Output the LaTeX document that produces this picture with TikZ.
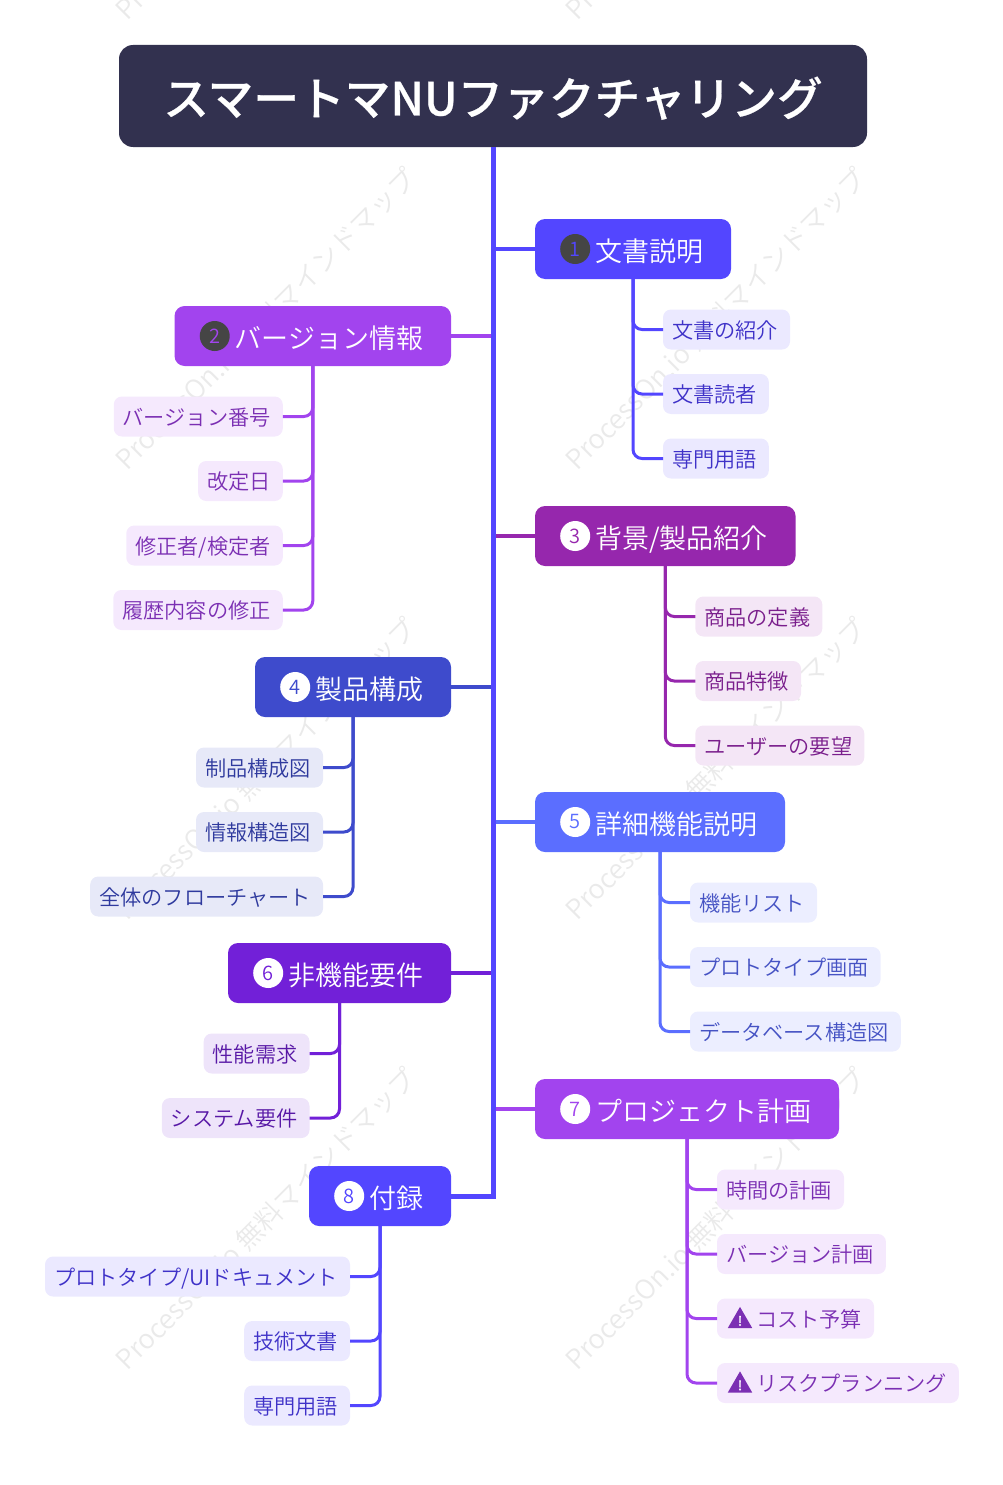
\documentclass[tikz,border=0pt]{standalone}
\usepackage{fontspec}
\setmainfont{Noto Sans CJK JP DemiLight}
\newfontfamily\titlefont[FakeBold=0.5]{Noto Sans CJK JP Medium}
\usepackage{tikz}
\usetikzlibrary{positioning}
\usetikzlibrary{shapes.geometric}

\definecolor{titlebg}{HTML}{32314F}
\definecolor{wmark}{HTML}{EAEAEA}
\definecolor{blueA}{HTML}{5346FF}
\definecolor{blueAsub}{HTML}{EBE9FF}
\definecolor{blueAtxt}{HTML}{3F32C8}
\definecolor{purpleA}{HTML}{A244EE}
\definecolor{purpleAsub}{HTML}{F5E9FD}
\definecolor{purpleAtxt}{HTML}{7B2FB3}
\definecolor{plumA}{HTML}{9627AD}
\definecolor{plumAsub}{HTML}{F4E6F6}
\definecolor{plumAtxt}{HTML}{7A1E8C}
\definecolor{indigoA}{HTML}{3E4BCC}
\definecolor{indigoAsub}{HTML}{E7E9F8}
\definecolor{indigoAtxt}{HTML}{2F3A9E}
\definecolor{skyA}{HTML}{5B6EFF}
\definecolor{skyAsub}{HTML}{ECEEFF}
\definecolor{skyAtxt}{HTML}{4653C4}
\definecolor{violetA}{HTML}{7220D8}
\definecolor{violetAsub}{HTML}{EEE4FA}
\definecolor{violetAtxt}{HTML}{5818A6}

\begin{document}
\begin{tikzpicture}[
        x=1pt, y=-1pt,
        titlenode/.style={rectangle, rounded corners=14pt, fill=titlebg, text=white, minimum width=748pt, minimum height=102pt, outer sep=0pt, inner ysep=0pt, text height=40pt, text depth=1pt, font=\fontsize{45.7}{46}\titlefont},
        mainnode/.style={rectangle, rounded corners=10pt, fill=#1, text=white, minimum height=60pt, outer sep=0pt, inner xsep=0pt, inner ysep=0pt, text height=26pt, text depth=2pt, font=\fontsize{27}{27}\selectfont, execute at begin node=\hspace{60pt}, execute at end node=\hspace{28pt}},
        subnode/.style={rectangle, rounded corners=8pt, fill=#1sub, text=#1txt, minimum height=40pt, outer sep=0pt, inner xsep=9pt, inner ysep=0pt, text height=19pt, text depth=2pt, font=\fontsize{21.2}{21}\selectfont, execute at end node=\hspace{3pt}},
        badge/.style={circle, fill=white, text=#1, minimum size=30pt, inner sep=0pt, font=\fontsize{20}{20}\selectfont},
        darkbadge/.style={circle, fill=black!73, text=#1, minimum size=30pt, inner sep=0pt, font=\fontsize{20}{20}\selectfont},
        warnicon/.style={regular polygon, regular polygon sides=3, fill=purpleAtxt, text=white, minimum size=25pt, inner sep=0pt, font=\fontsize{13}{13}\titlefont},
        watermark/.style={rotate=45, anchor=west, text=wmark, font=\fontsize{27}{27}\selectfont},
        trunk/.style={draw=blueA, line width=5pt},
        branch/.style={draw=#1, line width=4pt},
        twig/.style={draw=#1, line width=3pt, rounded corners=9pt},
    ]
    \useasboundingbox (0,0) rectangle (1003,1485);

    % Watermarks
    \node[watermark] (mark_1) at (118,17)   {ProcessOn.io 無料マインドマップ};
    \node[watermark] (mark_2) at (568,17)   {ProcessOn.io 無料マインドマップ};
    \node[watermark] (mark_3) at (118,467)  {ProcessOn.io 無料マインドマップ};
    \node[watermark] (mark_4) at (568,467)  {ProcessOn.io 無料マインドマップ};
    \node[watermark] (mark_5) at (118,917)  {ProcessOn.io 無料マインドマップ};
    \node[watermark] (mark_6) at (568,917)  {ProcessOn.io 無料マインドマップ};
    \node[watermark] (mark_7) at (118,1367) {ProcessOn.io 無料マインドマップ};
    \node[watermark] (mark_8) at (568,1367) {ProcessOn.io 無料マインドマップ};

    % Nodes
    \node[titlenode] (title) at (493,96) {スマートマNUファクチャリング};

    \node[mainnode=blueA]   (doc_desc)  [below right=72pt and 42pt of title.south]            {文書説明};
    \node[mainnode=plumA]   (background) [below=227pt of doc_desc.south west, anchor=north west] {背景/製品紹介};
    \node[mainnode=skyA]    (detail)    [below=226pt of background.south west, anchor=north west] {詳細機能説明};
    \node[mainnode=purpleA] (plan)      [below=227pt of detail.south west, anchor=north west]     {プロジェクト計画};

    \node[mainnode=purpleA] (version)   [below left=159pt and 42pt of title.south]            {バージョン情報};
    \node[mainnode=indigoA] (product)   [below=291pt of version.south east, anchor=north east]  {製品構成};
    \node[mainnode=violetA] (nonfunc)   [below=226pt of product.south east, anchor=north east]  {非機能要件};
    \node[mainnode=blueA]   (appendix)  [below=163pt of nonfunc.south east, anchor=north east]  {付録};

    \node[darkbadge=blueA]   (badge_1) [right=25pt of doc_desc.west]   {1};
    \node[darkbadge=purpleA] (badge_2) [right=25pt of version.west]    {2};
    \node[badge=plumA]       (badge_3) [right=25pt of background.west] {3};
    \node[badge=indigoA]     (badge_4) [right=25pt of product.west]    {4};
    \node[badge=skyA]        (badge_5) [right=25pt of detail.west]     {5};
    \node[badge=violetA]     (badge_6) [right=25pt of nonfunc.west]    {6};
    \node[badge=purpleA]     (badge_7) [right=25pt of plan.west]       {7};
    \node[badge=blueA]       (badge_8) [right=25pt of appendix.west]   {8};

    \node[subnode=blueA] (doc_intro)  [below right=30.5pt and 30pt of doc_desc.south]         {文書の紹介};
    \node[subnode=blueA] (doc_reader) [below=24.5pt of doc_intro.south west, anchor=north west]  {文書読者};
    \node[subnode=blueA] (doc_terms)  [below=24.5pt of doc_reader.south west, anchor=north west] {専門用語};

    \node[subnode=purpleA] (ver_no)   [below left=30.5pt and 30pt of version.south]          {バージョン番号};
    \node[subnode=purpleA] (ver_date) [below=24.5pt of ver_no.south east, anchor=north east]   {改定日};
    \node[subnode=purpleA] (ver_by)   [below=24.5pt of ver_date.south east, anchor=north east] {修正者/検定者};
    \node[subnode=purpleA] (ver_log)  [below=24.5pt of ver_by.south east, anchor=north east]   {履歴内容の修正};

    \node[subnode=plumA] (bg_def)   [below right=30.5pt and 30pt of background.south]      {商品の定義};
    \node[subnode=plumA] (bg_trait) [below=24.5pt of bg_def.south west, anchor=north west]   {商品特徴};
    \node[subnode=plumA] (bg_need)  [below=24.5pt of bg_trait.south west, anchor=north west] {ユーザーの要望};

    \node[subnode=indigoA] (prod_chart) [below left=30.5pt and 30pt of product.south]         {制品構成図};
    \node[subnode=indigoA] (prod_info)  [below=24.5pt of prod_chart.south east, anchor=north east] {情報構造図};
    \node[subnode=indigoA] (prod_flow)  [below=24.5pt of prod_info.south east, anchor=north east]  {全体のフローチャート};

    \node[subnode=skyA] (det_list)  [below right=30.5pt and 30pt of detail.south]         {機能リスト};
    \node[subnode=skyA] (det_proto) [below=24.5pt of det_list.south west, anchor=north west]  {プロトタイプ画面};
    \node[subnode=skyA] (det_db)    [below=24.5pt of det_proto.south west, anchor=north west] {データベース構造図};

    \node[subnode=violetA] (non_perf) [below left=30.5pt and 30pt of nonfunc.south]        {性能需求};
    \node[subnode=violetA] (non_sys)  [below=24.5pt of non_perf.south east, anchor=north east] {システム要件};

    \node[subnode=purpleA] (plan_time) [below right=30.5pt and 30pt of plan.south]         {時間の計画};
    \node[subnode=purpleA] (plan_ver)  [below=24.5pt of plan_time.south west, anchor=north west] {バージョン計画};
    \node[subnode=purpleA] (plan_cost) [below=24.5pt of plan_ver.south west, anchor=north west]  {\hspace{30pt}コスト予算};
    \node[subnode=purpleA] (plan_risk) [below=24.5pt of plan_cost.south west, anchor=north west] {\hspace{30pt}リスクプランニング};
    \node[warnicon] (warn_cost) [right=23pt of plan_cost.west, anchor=center, yshift=-2.5pt] {!};
    \node[warnicon] (warn_risk) [right=23pt of plan_risk.west, anchor=center, yshift=-2.5pt] {!};

    \node[subnode=blueA] (app_ui)    [below left=30.5pt and 30pt of appendix.south]       {プロトタイプ/UIドキュメント};
    \node[subnode=blueA] (app_tech)  [below=24.5pt of app_ui.south east, anchor=north east]   {技術文書};
    \node[subnode=blueA] (app_terms) [below=24.5pt of app_tech.south east, anchor=north east] {専門用語};

    % Lines
    \draw[branch=blueA]   (title.south |- doc_desc.west) -- (doc_desc.west);
    \draw[branch=purpleA] (title.south |- version.east) -- (version.east);
    \draw[branch=plumA]   (title.south |- background.west) -- (background.west);
    \draw[branch=indigoA] (title.south |- product.east) -- (product.east);
    \draw[branch=skyA]    (title.south |- detail.west) -- (detail.west);
    \draw[branch=violetA] (title.south |- nonfunc.east) -- (nonfunc.east);
    \draw[branch=purpleA] (title.south |- plan.west) -- (plan.west);
    \draw[trunk] (title.south) |- (appendix.east);

    \draw[twig=blueA] (doc_desc.south) |- (doc_intro.west);
    \draw[twig=blueA] (doc_desc.south) |- (doc_reader.west);
    \draw[twig=blueA] (doc_desc.south) |- (doc_terms.west);

    \draw[twig=purpleA] (version.south) |- (ver_no.east);
    \draw[twig=purpleA] (version.south) |- (ver_date.east);
    \draw[twig=purpleA] (version.south) |- (ver_by.east);
    \draw[twig=purpleA] (version.south) |- (ver_log.east);

    \draw[twig=plumA] (background.south) |- (bg_def.west);
    \draw[twig=plumA] (background.south) |- (bg_trait.west);
    \draw[twig=plumA] (background.south) |- (bg_need.west);

    \draw[twig=indigoA] (product.south) |- (prod_chart.east);
    \draw[twig=indigoA] (product.south) |- (prod_info.east);
    \draw[twig=indigoA] (product.south) |- (prod_flow.east);

    \draw[twig=skyA] (detail.south) |- (det_list.west);
    \draw[twig=skyA] (detail.south) |- (det_proto.west);
    \draw[twig=skyA] (detail.south) |- (det_db.west);

    \draw[twig=violetA] (nonfunc.south) |- (non_perf.east);
    \draw[twig=violetA] (nonfunc.south) |- (non_sys.east);

    \draw[twig=purpleA] (plan.south) |- (plan_time.west);
    \draw[twig=purpleA] (plan.south) |- (plan_ver.west);
    \draw[twig=purpleA] (plan.south) |- (plan_cost.west);
    \draw[twig=purpleA] (plan.south) |- (plan_risk.west);

    \draw[twig=blueA] (appendix.south) |- (app_ui.east);
    \draw[twig=blueA] (appendix.south) |- (app_tech.east);
    \draw[twig=blueA] (appendix.south) |- (app_terms.east);
\end{tikzpicture}
\end{document}
